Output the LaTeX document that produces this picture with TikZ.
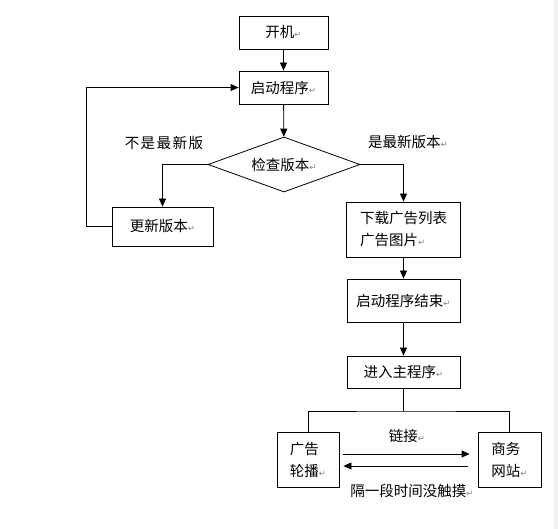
\documentclass[tikz,border=0pt]{standalone}
\usepackage{fontspec}
\setmainfont{Noto Sans CJK SC}
\newfontfamily\retfont{DejaVu Sans}
\usetikzlibrary{shapes.geometric,arrows.meta}
\newcommand{\rmk}{{\retfont\fontsize{8.5pt}{8.5pt}\selectfont\color{gray}↵}}
\begin{document}
\begin{tikzpicture}[x=1pt,y=-1pt,
  every node/.style={font=\fontsize{14.5pt}{22pt}\selectfont},
  box/.style={draw, line width=0.8pt, inner sep=0pt},
  dia/.style={draw, line width=0.8pt, shape=diamond, aspect=2.76, inner sep=0pt, minimum width=152pt, minimum height=55pt},
  line/.style={line width=0.8pt},
  arr/.style={line width=0.8pt, -{Triangle[length=8pt,width=7pt]}},
  lbl/.style={inner sep=0pt}]
\useasboundingbox (0,0) rectangle (558,529);
\fill[white] (0,0) rectangle (558,529);
\fill[gray!10] (554,0) rectangle (558,529);

\node[box, minimum width=89pt, minimum height=33pt] (kj) at (283.5,32.5) {开机\rmk};
\node[box, minimum width=89pt, minimum height=33pt] (qd) at (283.5,87.5) {启动程序\rmk};
\node[dia] (jc) at (284,164.5) {检查版本\rmk};
\node[box, minimum width=101pt, minimum height=39pt] (gx) at (162.5,226.5) {更新版本\rmk};
\node[box, minimum width=114pt, minimum height=55pt, align=left] (xz) at (403.5,229.5) {下载广告列表\\广告图片\rmk};
\node[box, minimum width=113pt, minimum height=43pt] (js) at (403.5,300.5) {启动程序结束\rmk};
\node[box, minimum width=113pt, minimum height=32pt] (jr) at (403.5,372) {进入主程序\rmk};
\node[box, minimum width=62pt, minimum height=55pt, align=left] (gg) at (308,459.5) {广告\\轮播\rmk};
\node[box, minimum width=63pt, minimum height=55pt, align=left] (sw) at (509.5,459.5) {商务\\网站\rmk};

\node[lbl] (l1) at (164,143) {不\kern1.5pt 是\kern1.5pt 最\kern1.5pt 新\kern1.5pt 版};
\node[lbl] (l2) at (408,142) {是最新版本\rmk};
\node[lbl] (l3) at (407,436) {链接\rmk};
\node[lbl] (l4) at (412,491) {隔一段时间没触摸\rmk};

\draw[arr] (kj) -- (qd);
\draw[arr] (qd) -- (jc);
\draw[arr] (jc.west) -| (gx.north);
\draw[arr] (gx.west) -- ++(-25,0) |- (qd.west);
\draw[arr] (jc.east) -| (xz.north);
\draw[arr] (xz) -- (js);
\draw[arr] (js) -- (jr);
\draw[line] (jr.south) -- (jr.south |- 0,411) coordinate (sp);
\draw[line] (gg.north) |- (sp) -| (sw.north);
\draw[arr, shorten <=4pt, shorten >=8pt] ([yshift=5.5pt]gg.east) -- ([yshift=5.5pt]sw.west);
\draw[arr, shorten <=10pt, shorten >=4pt] ([yshift=-6.5pt]sw.west) -- ([yshift=-6.5pt]gg.east);
\end{tikzpicture}
\end{document}
